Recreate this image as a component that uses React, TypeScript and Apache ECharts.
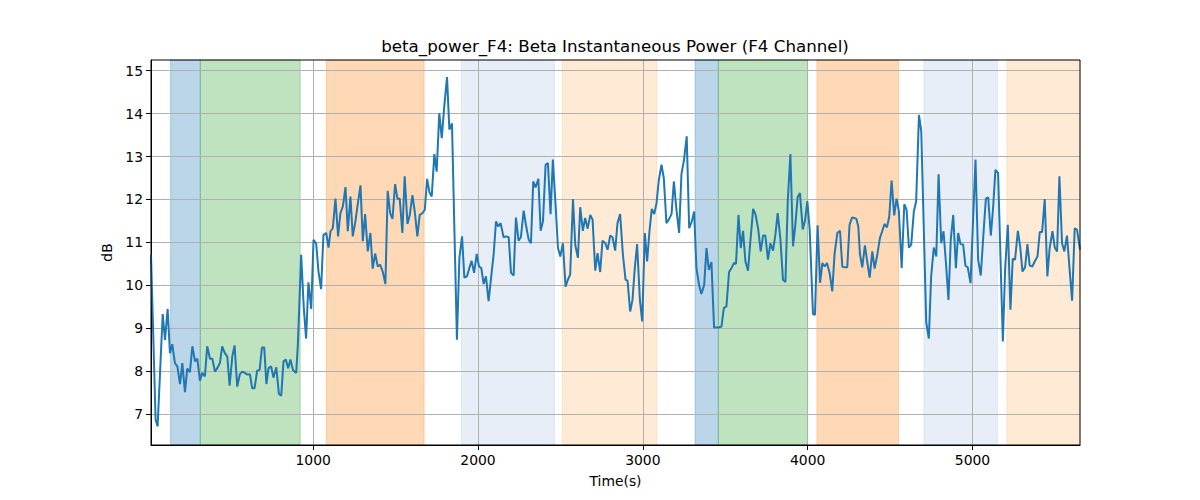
import React, { useEffect, useRef } from "react";
import * as echarts from "echarts";

const TITLE = "beta_power_F4: Beta Instantaneous Power (F4 Channel)";
const X_LABEL = "Time(s)";
const Y_LABEL = "dB";

const X_MIN = 16;
const X_MAX = 5652;
const Y_MIN = 6.28;
const Y_MAX = 15.25;

const X_TICKS = [1000, 2000, 3000, 4000, 5000];
const Y_TICKS = [7, 8, 9, 10, 11, 12, 13, 14, 15];

const times = [
  16, 44, 56, 87, 101, 117, 131, 145, 161, 176, 192, 206, 222, 236, 252, 267, 283, 297, 313, 327,
  343, 357, 374, 388, 404, 418, 434, 448, 464, 479, 493, 509, 523, 539, 555, 570, 586, 600, 616, 630,
  644, 660, 675, 689, 703, 716, 729, 745, 759, 776, 792, 806, 820, 834, 848, 862, 877, 897, 907, 927,
  943, 957, 971, 988, 1002, 1018, 1032, 1048, 1062, 1079, 1093, 1105, 1119, 1135, 1151, 1165, 1180, 1196, 1210, 1226,
  1240, 1256, 1270, 1287, 1301, 1315, 1331, 1347, 1361, 1376, 1392, 1406, 1422, 1438, 1452, 1467, 1481, 1497, 1511, 1525,
  1541, 1555, 1572, 1586, 1602, 1616, 1632, 1646, 1662, 1677, 1691, 1705, 1719, 1735, 1749, 1765, 1780, 1796, 1812, 1826,
  1842, 1872, 1887, 1903, 1917, 1933, 1947, 1961, 1976, 1992, 2006, 2020, 2034, 2048, 2064, 2079, 2095, 2109, 2123, 2137,
  2155, 2170, 2186, 2200, 2216, 2230, 2246, 2260, 2277, 2291, 2307, 2321, 2335, 2349, 2366, 2380, 2394, 2410, 2424, 2440,
  2454, 2471, 2485, 2499, 2515, 2531, 2545, 2559, 2576, 2590, 2606, 2620, 2636, 2650, 2665, 2681, 2695, 2711, 2725, 2741,
  2755, 2772, 2786, 2802, 2816, 2832, 2846, 2862, 2879, 2895, 2907, 2923, 2937, 2951, 2965, 2982, 2996, 3012, 3026, 3040,
  3054, 3069, 3083, 3097, 3113, 3127, 3143, 3157, 3174, 3188, 3204, 3220, 3234, 3250, 3266, 3281, 3297, 3311, 3325, 3341,
  3355, 3372, 3386, 3400, 3416, 3432, 3448, 3462, 3477, 3491, 3507, 3523, 3537, 3553, 3565, 3580, 3594, 3608, 3622, 3638,
  3652, 3669, 3683, 3699, 3715, 3729, 3743, 3759, 3774, 3790, 3804, 3818, 3834, 3850, 3865, 3879, 3895, 3911, 3925, 3939,
  3953, 3970, 3984, 3998, 4012, 4032, 4044, 4060, 4075, 4089, 4103, 4117, 4133, 4149, 4163, 4180, 4196, 4210, 4226, 4240,
  4254, 4269, 4283, 4295, 4307, 4317, 4331, 4347, 4361, 4376, 4392, 4406, 4422, 4438, 4452, 4466, 4481, 4495, 4509, 4525,
  4539, 4553, 4570, 4586, 4600, 4614, 4628, 4644, 4658, 4675, 4689, 4719, 4735, 4749, 4765, 4780, 4794, 4810, 4824, 4838,
  4854, 4868, 4883, 4899, 4913, 4927, 4943, 4957, 4971, 4988, 5018, 5034, 5050, 5066, 5081, 5095, 5111, 5125, 5139, 5155,
  5184, 5198, 5214, 5230, 5244, 5258, 5275, 5289, 5303, 5319, 5333, 5347, 5363, 5378, 5394, 5408, 5422, 5438, 5454, 5468,
  5485, 5499, 5513, 5527, 5543, 5557, 5573, 5590, 5604, 5620, 5634, 5652,
];

const values = [
  10.71, 6.87, 6.71, 9.33, 8.73, 9.45, 8.42, 8.63, 8.19, 8.11, 7.7, 8.19, 7.51, 8.06, 7.98, 8.58, 8.23, 8.29, 7.78, 7.96,
  7.88, 8.58, 8.29, 8.29, 7.99, 8.07, 8.19, 8.58, 8.42, 8.34, 7.66, 8.34, 8.6, 7.64, 7.93, 7.99, 7.96, 7.92, 7.93, 7.6,
  7.6, 8.01, 8.03, 8.55, 8.55, 7.7, 8.07, 8.11, 7.85, 8.09, 7.47, 7.43, 8.23, 8.27, 8.07, 8.27, 8.03, 7.96, 8.62, 10.71,
  9.47, 8.76, 10.07, 9.45, 11.06, 10.98, 10.32, 9.91, 11.17, 11.22, 10.88, 11.26, 11.33, 12.02, 11.14, 11.68, 11.84, 12.29, 11.26, 12.07,
  11.14, 11.49, 11.88, 12.33, 11.03, 11.66, 10.79, 11.22, 10.39, 10.74, 10.44, 10.48, 10.32, 10.03, 12.2, 11.68, 11.55, 12.36, 12.02, 12.02,
  11.22, 12.54, 11.43, 11.64, 12.1, 11.72, 11.14, 11.64, 11.68, 11.76, 12.48, 12.17, 12.07, 13.06, 12.65, 14.01, 13.43, 14.21, 14.85, 13.63,
  13.77, 8.73, 10.64, 11.14, 10.18, 10.21, 10.4, 10.57, 10.29, 10.73, 10.44, 10.4, 10.03, 10.21, 9.63, 10.17, 10.73, 11.49, 11.37, 11.45,
  11.12, 11.14, 11.12, 10.29, 10.23, 11.58, 11.04, 11.12, 11.74, 11.4, 11.07, 10.98, 12.42, 12.28, 12.48, 11.27, 11.49, 12.81, 12.85, 11.66,
  12.93, 11.84, 10.87, 10.67, 10.98, 9.97, 10.13, 10.25, 12.01, 10.94, 10.64, 11.82, 11.27, 11.57, 11.32, 11.64, 11.53, 10.34, 10.75, 10.31,
  11.04, 10.98, 10.83, 11.16, 11.12, 10.81, 11.45, 11.66, 10.71, 10.13, 10.11, 9.39, 9.66, 10.4, 10.96, 9.66, 9.16, 11.22, 10.56, 11.26,
  11.78, 11.66, 11.92, 12.46, 12.81, 12.5, 11.45, 11.53, 11.66, 12.42, 11.76, 11.22, 12.59, 12.93, 13.47, 11.33, 11.49, 11.72, 10.4, 10.01,
  9.8, 10.01, 10.87, 10.36, 10.54, 9.02, 9.02, 9.02, 9.04, 9.47, 9.51, 10.31, 10.4, 10.52, 10.5, 11.64, 10.87, 11.27, 10.56, 10.34,
  11.02, 11.78, 11.66, 11.33, 10.79, 11.16, 11.16, 10.6, 10.98, 10.81, 11.18, 11.68, 11.1, 10.13, 10.08, 11.96, 13.06, 10.91, 11.41, 12.05,
  12.15, 11.3, 11.51, 11.96, 11.3, 9.33, 9.31, 11.4, 10.06, 10.52, 10.44, 10.52, 10.29, 9.86, 10.73, 11.22, 11.27, 10.43, 10.42, 10.42,
  11.41, 11.58, 11.57, 11.55, 11.37, 10.73, 10.42, 10.93, 10.56, 10.18, 10.79, 10.39, 10.71, 11.1, 11.26, 11.43, 11.35, 11.61, 12.44, 11.63,
  12.02, 11.74, 10.4, 11.89, 11.76, 10.88, 10.95, 11.72, 11.96, 13.97, 13.59, 9.14, 8.76, 10.21, 10.88, 10.67, 12.59, 10.98, 11.26, 10.56,
  9.66, 11.07, 11.64, 10.4, 11.22, 10.96, 10.95, 10.46, 10.42, 10.05, 12.93, 10.6, 10.23, 11.18, 12.02, 12.05, 11.16, 11.82, 12.69, 12.62,
  8.69, 10.4, 11.41, 9.43, 10.62, 10.6, 11.27, 10.91, 10.32, 10.42, 10.96, 10.46, 10.44, 10.56, 10.67, 11.24, 11.24, 12.01, 10.21, 10.87,
  11.26, 10.88, 10.79, 12.54, 10.98, 10.79, 11.16, 10.32, 9.64, 11.33, 11.3, 10.83,
];

// shaded intervals: [start, end, colour]
const spanStarts = [135, 315, 1080, 1899, 2511, 3317, 3458, 4056, 4705, 5208];
const spanEnds = [315, 921, 1673, 2463, 3085, 3458, 4000, 4551, 5151, 5652];
const spanColors = [
  "rgba(31,119,180,0.3)",
  "rgba(44,160,44,0.3)",
  "rgba(255,127,14,0.3)",
  "rgba(174,199,232,0.3)",
  "rgba(255,187,120,0.3)",
  "rgba(31,119,180,0.3)",
  "rgba(44,160,44,0.3)",
  "rgba(255,127,14,0.3)",
  "rgba(174,199,232,0.3)",
  "rgba(255,187,120,0.3)",
];

const FONT = "DejaVu Sans";

export default function App() {
  const ref = useRef<HTMLDivElement>(null);

  useEffect(() => {
    if (!ref.current) return;
    const chart = echarts.init(ref.current, null, { renderer: "svg" });
    const lineData = times.map((t, i) => [t, values[i]]);
    const areas = spanStarts.map((s, i) => [
      {
        xAxis: s,
        itemStyle: { color: spanColors[i], borderColor: spanColors[i], borderWidth: 1 },
      },
      { xAxis: spanEnds[i] },
    ]);

    chart.setOption({
      animation: false,
      backgroundColor: "#ffffff",
      textStyle: { fontFamily: FONT },
      grid: {
        left: 151,
        right: 120,
        top: 60,
        bottom: 55,
        show: true,
        borderColor: "#000000",
        borderWidth: 1,
        backgroundColor: "transparent",
        z: 4,
      },
      graphic: [
        {
          type: "text",
          x: 615,
          y: 46,
          z: 10,
          style: {
            text: TITLE,
            textAlign: "center",
            textVerticalAlign: "middle",
            fontSize: 16.7,
            fontFamily: FONT,
            fill: "#000000",
          },
        },
      ],
      xAxis: {
        type: "value",
        min: X_MIN,
        max: X_MAX,
        z: 2,
        name: X_LABEL,
        nameLocation: "middle",
        nameGap: 29,
        nameTextStyle: { fontSize: 13.9, fontFamily: FONT, color: "#000" },
        axisLine: { show: true, onZero: false, lineStyle: { color: "#000", width: 1 } },
        axisTick: {
          show: true,
          length: 5,
          inside: false,
          customValues: X_TICKS,
          lineStyle: { color: "#000", width: 1 },
        },
        axisLabel: {
          customValues: X_TICKS,
          formatter: (v: number) => String(v),
          margin: 8,
          fontSize: 13.9,
          fontFamily: FONT,
          color: "#000",
        },
        splitLine: { show: true, lineStyle: { color: "#b0b0b0", width: 1 } },
      },
      yAxis: {
        type: "value",
        min: Y_MIN,
        max: Y_MAX,
        z: 2,
        name: Y_LABEL,
        nameLocation: "middle",
        nameGap: 32,
        nameRotate: 90,
        nameTextStyle: { fontSize: 13.9, fontFamily: FONT, color: "#000" },
        axisLine: { show: true, onZero: false, lineStyle: { color: "#000", width: 1 } },
        axisTick: {
          show: true,
          length: 5,
          inside: false,
          customValues: Y_TICKS,
          lineStyle: { color: "#000", width: 1 },
        },
        axisLabel: {
          customValues: Y_TICKS,
          formatter: (v: number) => String(v),
          margin: 8,
          fontSize: 13.9,
          fontFamily: FONT,
          color: "#000",
        },
        splitLine: { show: true, lineStyle: { color: "#b0b0b0", width: 1 } },
      },
      series: [
        {
          type: "line",
          data: [],
          z: 1,
          silent: true,
          markArea: {
            silent: true,
            z: 1,
            data: areas,
          },
        },
        {
          type: "line",
          data: lineData,
          z: 3,
          showSymbol: false,
          symbol: "none",
          lineStyle: { color: "#1f77b4", width: 2 },
          itemStyle: { color: "#1f77b4" },
        },
      ],
    });
    return () => chart.dispose();
  }, []);

  return (
    <div
      ref={ref}
      style={{ position: "absolute", left: 0, top: 0, width: 1200, height: 500 }}
    />
  );
}
